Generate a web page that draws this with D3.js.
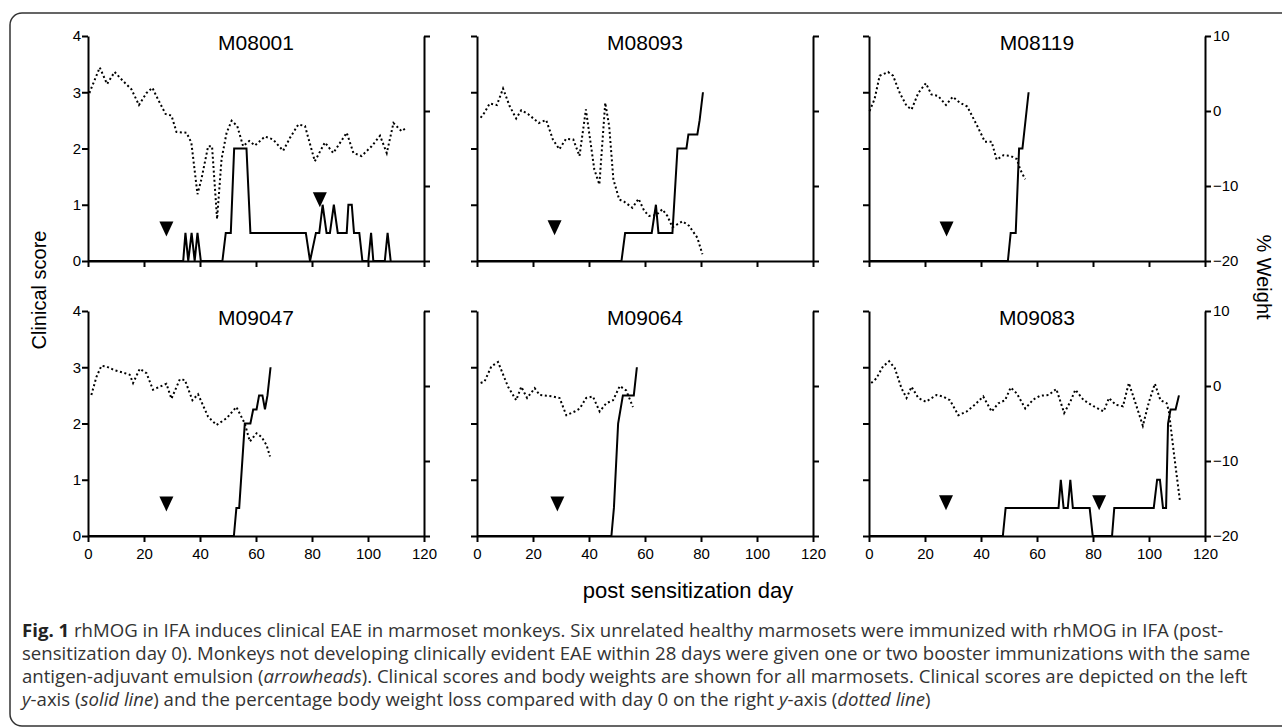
<!DOCTYPE html>
<html>
<head>
<meta charset="utf-8">
<script src="https://cdn.jsdelivr.net/npm/d3@7"></script>
<style>
  body { margin: 0; background: #fff; }
  svg { display: block; }
  .axis path, .axis line { stroke: #000; stroke-width: 2; }
  .axis text { font-family: "Liberation Sans", Arial, sans-serif; font-size: 15px; fill: #000; }
</style>
</head>
<body>
<div id="chart"></div>
<script>
// monkeys, in panel order
var monkeys = ["M08001", "M08093", "M08119", "M09047", "M09064", "M09083"];

var xTicks = [0, 20, 40, 60, 80, 100, 120];
var scoreTicks = [0, 1, 2, 3, 4];
var weightTicks = [-20, -10, 0, 10];

// % weight (dotted), [day, value]
var weightM08001 = [[0.5,2.4],[4.2,5.8],[6.8,3.6],[9.5,5.2],[12.5,4.0],[15.5,2.9],[18.2,0.8],[20.9,2.4],[23,3.1],[24.4,2.0],
  [27.7,-0.4],[29.8,-0.6],[31.6,-2.8],[35.2,-2.9],[36.9,-4.2],[39.1,-11.1],[40.5,-9.1],[42.9,-4.7],[44.3,-4.7],[46.1,-14.4],
  [47.7,-6.4],[49.5,-2.9],[51.3,-1.3],[53.3,-2.0],[55.4,-4.7],[57.6,-4.0],[59.6,-4.6],[63.2,-3.4],[66.1,-3.8],[69.7,-5.3],
  [72.1,-3.6],[75.1,-1.8],[77.5,-2.0],[81,-6.7],[84.6,-4.2],[87.6,-5.6],[92.4,-2.9],[94.8,-5.6],[97.7,-6.0],[101.3,-4.7],
  [104.3,-3.3],[106.7,-5.6],[109.1,-1.6],[112,-2.7],[113.8,-2.2]];
var weightM08093 = [[1.3,-0.9],[2.7,-0.2],[4.5,1.0],[7.1,0.8],[9.3,3.0],[11.6,0.7],[14,-1.0],[15.8,0.1],[18.2,-0.4],[22.1,-1.6],
  [24.7,-1.2],[27.1,-3.8],[29.4,-5.1],[31.8,-3.7],[34.4,-3.8],[36.6,-6.0],[38.9,0.2],[40.4,-3.8],[41.9,-7.8],[43.7,-9.8],
  [45.8,1.1],[47.2,-2.0],[48.7,-9.1],[50.8,-11.8],[52.6,-12.1],[55.5,-12.9],[57.7,-11.7],[59.7,-13.3],[61.5,-14.0],[63.9,-13.9],
  [66.2,-13.1],[68,-14.0],[69.8,-15.5],[73.4,-14.7],[75.7,-15.3],[78.7,-16.9],[80.5,-19.1]];
var weightM08119 = [[0.2,0],[2,1.6],[3.8,4.7],[6.8,5.2],[8.6,4.7],[11,2.4],[13.4,0.7],[15.2,0.2],[17.6,2.4],[20.3,3.7],
  [22.3,2.2],[24.7,2.0],[27.5,0.8],[29.9,1.9],[32.5,1.1],[35.1,0.6],[38.4,-1.8],[41.4,-4.1],[43.8,-4.1],[45.6,-6.5],
  [48,-5.9],[50.6,-6.0],[52.8,-6.4],[54,-7.8],[55.8,-9.1]];
var weightM09047 = [[1.2,-1.2],[3,1.2],[4.8,2.7],[6.6,2.6],[9.5,2.1],[12.5,1.8],[14.9,1.5],[16.1,0.4],[18.5,2.3],[20.9,1.7],
  [23.2,-0.5],[25.6,-0.1],[28,0.3],[29.8,-1.7],[32.8,0.9],[34.6,0.8],[37.3,-1.9],[39.3,-1.1],[42.9,-4.1],[45.9,-5.2],
  [49.5,-4.3],[53,-2.8],[56,-5.0],[57.8,-7.4],[60.2,-6.3],[62,-6.8],[63.8,-7.9],[65,-9.4]];
var weightM09064 = [[1.3,0.4],[2.7,0.6],[5.1,2.6],[7.5,3.2],[11.1,-0.1],[14,-1.9],[15.8,-0.1],[17.9,-1.6],[20.6,-0.3],[22.4,-1.2],
  [24.8,-1.3],[27.1,-1.4],[29.5,-1.6],[31.9,-3.9],[34.9,-3.4],[36.7,-3.0],[39,-1.6],[41.4,-1.4],[43.8,-3.4],[46.2,-2.3],
  [48.6,-1.9],[51,0],[53.3,-0.6],[55.7,-2.8]];
var weightM09083 = [[0.8,0.4],[2.6,1.0],[5,2.6],[7.2,3.3],[9.2,2.4],[11.6,-0.3],[13.4,-1.6],[15.2,-0.1],[17.6,-1.6],[20.3,-2.1],
  [24.1,-1.2],[26.5,-1.4],[28.9,-1.9],[31.9,-3.9],[34.9,-3.4],[37.8,-2.5],[40.8,-1.4],[43.8,-3.4],[46.2,-2.3],[48.6,-1.9],
  [50.6,-0.2],[52.8,-1.0],[55.8,-3.0],[58.7,-1.8],[61.1,-1.3],[64.1,-1.2],[66.9,-0.4],[69.7,-3.6],[71.9,-2.1],[73.7,-0.5],
  [76.7,-1.9],[80.2,-2.7],[83.8,-3.4],[85.7,-1.6],[88.1,-2.5],[90.7,-2.7],[92.8,0.4],[95.2,-2.3],[97.8,-5.3],[100,-2.1],
  [102.1,0.3],[104.1,-1.9],[106.3,-2.3],[107.1,-3.4],[108.9,-9.0],[111,-15.2]];

// clinical score (solid), [day, value]
var scoreM08001 = [[0,0],[34,0],[34.8,0.5],[35.8,0],[37,0.5],[38.1,0],[39.1,0.5],[40.3,0],[48,0],[49.2,0.5],[51,0.5],
  [52.2,2],[56.6,2],[58,0.5],[77.8,0.5],[79.3,0],[81.4,0.5],[82.6,0.5],[83.8,1],[85.2,0.5],[86.4,0.5],[87.8,1],[89.2,0.5],
  [92.4,0.5],[93,1],[94.2,1],[95,0.5],[96.9,0.5],[98,0],[100.1,0],[101.1,0.5],[101.9,0],[106,0],[107,0.5],[108.1,0]];
var scoreM08093 = [[0,0],[51.6,0],[52.9,0.5],[62.4,0.5],[63.9,1],[64.8,0.5],[69.8,0.5],[71.6,2],[74.8,2],[75.5,2.25],
  [78.7,2.25],[79.5,2.5],[80.7,3]];
var scoreM08119 = [[0,0],[49.6,0],[50.6,0.5],[52.4,0.5],[53.6,2],[54.8,2],[57,3]];
var scoreM09047 = [[0,0],[52.1,0],[53,0.5],[54,0.5],[56,2],[58,2],[59,2.25],[60.2,2.25],[61.1,2.5],[62.3,2.5],[63.2,2.25],
  [64.1,2.5],[65.2,3]];
var scoreM09064 = [[0,0],[48,0],[48.9,0.5],[50.4,2],[52.1,2.5],[56,2.5],[57.1,3]];
var scoreM09083 = [[0,0],[47.8,0],[48.8,0.5],[67.7,0.5],[68.5,1],[69.5,0.5],[71,0.5],[71.9,1],[72.8,0.5],[78.8,0.5],
  [79.9,0],[86.8,0],[87.6,0.5],[101.7,0.5],[102.9,1],[103.9,1],[105,0.5],[106.1,0.5],[106.8,2],[107.7,2.25],[109.5,2.25],
  [110.7,2.5]];

// booster immunizations (arrowheads), [day, score level]
var boostM08001 = [[28, 0.58], [82.8, 1.1]];
var boostM08093 = [[27.7, 0.6]];
var boostM08119 = [[27.7, 0.58]];
var boostM09047 = [[28, 0.58]];
var boostM09064 = [[28.7, 0.58]];
var boostM09083 = [[27.5, 0.6], [82.2, 0.6]];

var weights = [weightM08001, weightM08093, weightM08119, weightM09047, weightM09064, weightM09083];
var scores = [scoreM08001, scoreM08093, scoreM08119, scoreM09047, scoreM09064, scoreM09083];
var boosts = [boostM08001, boostM08093, boostM08119, boostM09047, boostM09064, boostM09083];

var width = 1282, height = 728;
var colX = [88, 477, 869];
var rowY = [36, 311];
var pw = 336, ph = 225;
var font = '"Liberation Sans", Arial, sans-serif';

var svg = d3.select("#chart").append("svg")
  .attr("width", width)
  .attr("height", height);

// frame
svg.append("rect")
  .attr("x", 10).attr("y", 13)
  .attr("width", 1300).attr("height", 713)
  .attr("rx", 12)
  .attr("fill", "none")
  .attr("stroke", "#333")
  .attr("stroke-width", 1.5);

monkeys.forEach(function(name, i){
  var col = i % 3, row = Math.floor(i / 3);
  var g = svg.append("g").attr("transform", "translate(" + colX[col] + "," + rowY[row] + ")");

  var x = d3.scaleLinear().domain([0, 120]).range([0, pw]);
  var yS = d3.scaleLinear().domain([0, 4]).range([ph, 0]);
  var yW = d3.scaleLinear().domain([-20, 10]).range([ph, 0]);

  var xAxis = d3.axisBottom(x).tickValues(xTicks).tickSize(6).tickSizeOuter(0).tickPadding(6);
  if (row == 0) xAxis.tickFormat("");
  g.append("g").attr("class", "axis").attr("transform", "translate(0," + ph + ")").call(xAxis);

  var leftAxis = d3.axisLeft(yS).tickValues(scoreTicks).tickSize(6).tickSizeOuter(0).tickPadding(1)
    .tickFormat(col == 0 ? d3.format("d") : "");
  g.append("g").attr("class", "axis").call(leftAxis);

  var rightAxis = d3.axisRight(yW).tickValues(weightTicks).tickSize(6).tickSizeOuter(0).tickPadding(2);
  if (col != 2) rightAxis.tickFormat("");
  g.append("g").attr("class", "axis").attr("transform", "translate(" + pw + ",0)").call(rightAxis);

  g.selectAll(".axis text").style("font-size", "15px");

  // title
  g.append("text")
    .attr("x", pw / 2).attr("y", 14)
    .attr("text-anchor", "middle")
    .style("font-family", font).style("font-size", "21px")
    .text(name);

  // weight (dotted)
  g.append("path")
    .datum(weights[i])
    .attr("fill", "none")
    .attr("stroke", "#000")
    .attr("stroke-width", 2)
    .attr("stroke-dasharray", "2,2.6")
    .attr("d", d3.line().x(function(d){ return x(d[0]); }).y(function(d){ return yW(d[1]); }));

  // clinical score (solid)
  g.append("path")
    .datum(scores[i])
    .attr("fill", "none")
    .attr("stroke", "#000")
    .attr("stroke-width", 2)
    .attr("stroke-linejoin", "miter")
    .attr("d", d3.line().x(function(d){ return x(d[0]); }).y(function(d){ return yS(d[1]); }));

  // arrowheads
  g.selectAll(".boost")
    .data(boosts[i])
    .enter().append("path")
    .attr("class", "boost")
    .attr("transform", function(d){ return "translate(" + x(d[0]) + "," + yS(d[1]) + ")"; })
    .attr("d", "M-7,-7L7,-7L0,8Z")
    .attr("fill", "#000");
});

// axis titles
svg.append("text")
  .attr("transform", "translate(46,290) rotate(-90)")
  .attr("text-anchor", "middle")
  .style("font-family", font).style("font-size", "20px")
  .text("Clinical score");

svg.append("text")
  .attr("transform", "translate(1257,277) rotate(90)")
  .attr("text-anchor", "middle")
  .style("font-family", font).style("font-size", "20px")
  .text("% Weight");

svg.append("text")
  .attr("x", 688).attr("y", 598)
  .attr("text-anchor", "middle")
  .style("font-family", font).style("font-size", "22px")
  .text("post sensitization day");

// caption
var capFont = '"Open Sans", "Noto Sans", sans-serif';
var caption = [
  [["Fig. 1", "b"], [" rhMOG in IFA induces clinical EAE in marmoset monkeys. Six unrelated healthy marmosets were immunized with rhMOG in IFA (post-", ""]],
  [["sensitization day 0). Monkeys not developing clinically evident EAE within 28 days were given one or two booster immunizations with the same", ""]],
  [["antigen-adjuvant emulsion (", ""], ["arrowheads", "i"], ["). Clinical scores and body weights are shown for all marmosets. Clinical scores are depicted on the left", ""]],
  [["y", "i"], ["-axis (", ""], ["solid line", "i"], [") and the percentage body weight loss compared with day 0 on the right ", ""], ["y", "i"], ["-axis (", ""], ["dotted line", "i"], [")", ""]]
];
var capY = [637, 660, 683, 706];
caption.forEach(function(line, k){
  var t = svg.append("text")
    .attr("x", 22).attr("y", capY[k])
    .style("font-family", capFont).style("font-size", "18.6px")
    .attr("fill", "#333");
  line.forEach(function(p){
    t.append("tspan")
      .style("font-weight", p[1] == "b" ? "bold" : "normal")
      .style("font-style", p[1] == "i" ? "italic" : "normal")
      .attr("fill", p[1] == "b" ? "#222" : "#333")
      .text(p[0]);
  });
});
</script>
</body>
</html>
